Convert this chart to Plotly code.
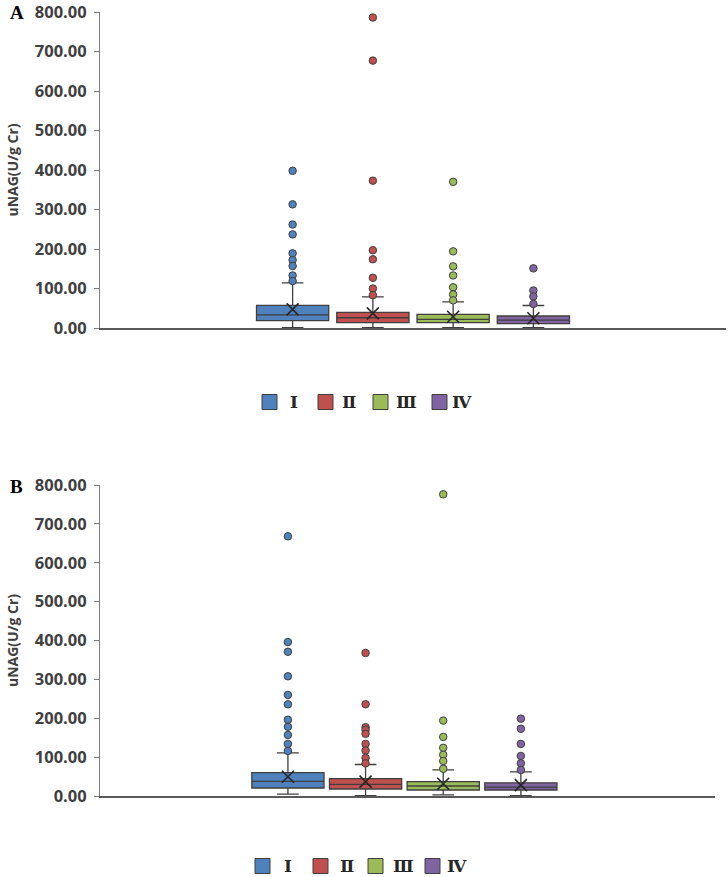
import plotly.graph_objects as go

W, H = 728, 877

groups = ["Ⅰ", "Ⅱ", "Ⅲ", "Ⅳ"]
colors = ["#4F81BD", "#C0504D", "#9BBB59", "#8064A2"]
positions = [1, 2, 3, 4]
y_ticks = [0, 100, 200, 300, 400, 500, 600, 700, 800]

# Panel A statistics
A_q1 = [18.5, 13.4, 13.4, 11.0]
A_median = [33.0, 26.0, 22.0, 20.0]
A_q3 = [57.5, 39.7, 34.7, 30.4]
A_low = [1.0, 1.0, 1.0, 1.0]
A_high = [114.0, 79.0, 66.0, 57.0]
A_mean = [47.0, 37.0, 28.6, 24.6]
A_out_I = [398, 313, 262, 237, 189, 172, 157, 133, 119]
A_out_II = [786, 677, 373, 197, 174, 127, 100, 83]
A_out_III = [370, 194, 156, 133, 103, 85, 70]
A_out_IV = [151, 95, 80, 61]

# Panel B statistics
B_q1 = [20.6, 18.0, 15.4, 15.4]
B_median = [37.8, 30.0, 25.7, 23.0]
B_q3 = [60.0, 44.5, 36.8, 34.0]
B_low = [5.0, 1.0, 3.0, 1.0]
B_high = [111.0, 81.0, 67.0, 62.0]
B_mean = [49.6, 36.8, 31.6, 28.0]
B_out_I = [668, 396, 371, 308, 260, 236, 196, 178, 157, 134, 116]
B_out_II = [368, 236, 177, 170, 160, 134, 117, 98, 84]
B_out_III = [776, 194, 152, 124, 106, 90, 70]
B_out_IV = [199, 173, 134, 103, 84, 67]

EDGE = "#3F3F3F"
TXT = "#404040"

# legend layout (pixels): square left edges, text centres, row centre
LEG_A = dict(sq=[262, 318, 373, 432], tx=[294, 349, 406, 462], y=402)
LEG_B = dict(sq=[255, 313, 368, 425], tx=[288, 347, 403, 457], y=866)
SQ = 15


def fx(p):
    return p / W


def fy(p):
    return 1 - p / H


fig = go.Figure()


def add_panel(q1, med, q3, low, high, mean, outs, xa, ya, bw):
    for i in range(4):
        fig.add_trace(go.Box(
            x=[positions[i]], q1=[q1[i]], median=[med[i]], q3=[q3[i]],
            lowerfence=[low[i]], upperfence=[high[i]], name=groups[i],
            boxpoints=False, width=bw, whiskerwidth=0.3,
            fillcolor=colors[i], line=dict(color=EDGE, width=1.3),
            xaxis=xa, yaxis=ya, showlegend=False, hoverinfo="skip"))
        fig.add_trace(go.Scatter(
            x=[positions[i]] * len(outs[i]), y=outs[i], mode="markers",
            marker=dict(symbol="circle", size=7.5, color=colors[i],
                        line=dict(color=EDGE, width=1)),
            xaxis=xa, yaxis=ya, showlegend=False, hoverinfo="skip"))
        fig.add_trace(go.Scatter(
            x=[positions[i]], y=[mean[i]], mode="markers",
            marker=dict(symbol="x-thin-open", size=12, color="#262626",
                        line=dict(color="#262626", width=1.6)),
            xaxis=xa, yaxis=ya, showlegend=False, hoverinfo="skip"))


add_panel(A_q1, A_median, A_q3, A_low, A_high, A_mean,
          [A_out_I, A_out_II, A_out_III, A_out_IV], "x", "y", 0.9)
add_panel(B_q1, B_median, B_q3, B_low, B_high, B_mean,
          [B_out_I, B_out_II, B_out_III, B_out_IV], "x2", "y2", 0.93)

# legends (drawn as shapes + text so spacing matches the original)
shapes = []
annotations = []
for leg in (LEG_A, LEG_B):
    for i in range(4):
        x0 = leg["sq"][i]
        shapes.append(dict(type="rect", xref="paper", yref="paper",
                           x0=fx(x0), x1=fx(x0 + SQ),
                           y0=fy(leg["y"] + SQ / 2), y1=fy(leg["y"] - SQ / 2),
                           fillcolor=colors[i], line=dict(color=EDGE, width=1)))
        annotations.append(dict(text=groups[i], x=fx(leg["tx"][i]), y=fy(leg["y"]),
                                xref="paper", yref="paper", xanchor="center",
                                yanchor="middle", showarrow=False,
                                font=dict(family="DejaVu Serif", size=17,
                                          color="#262626", weight="bold")))

annotations += [
    dict(text="<b>A</b>", x=fx(8), y=fy(13), xref="paper", yref="paper",
         xanchor="left", yanchor="middle", showarrow=False,
         font=dict(family="Liberation Serif", size=19, color="black")),
    dict(text="<b>B</b>", x=fx(8), y=fy(486), xref="paper", yref="paper",
         xanchor="left", yanchor="middle", showarrow=False,
         font=dict(family="Liberation Serif", size=19, color="black")),
]

yax = dict(range=[0, 800], tickvals=y_ticks, tickformat=".2f", automargin=False,
           showline=True, linecolor="#7F7F7F", linewidth=1,
           ticks="outside", ticklen=5, tickcolor="#7F7F7F", ticklabelstandoff=4,
           ticklabeloverflow="allow",
           showgrid=False, zeroline=False,
           tickfont=dict(family="Open Sans", size=16.5, color=TXT, weight="bold"),
           title=dict(text="uNAG(U/g Cr)", standoff=12,
                      font=dict(family="Open Sans", size=14, color=TXT, weight="bold")))
xax = dict(showline=True, linecolor="#595959", linewidth=2, showticklabels=False,
           ticks="", showgrid=False, zeroline=False, automargin=False)

fig.update_layout(
    width=W, height=H, margin=dict(l=0, r=0, t=0, b=0, autoexpand=False),
    plot_bgcolor="white", paper_bgcolor="white", showlegend=False,
    xaxis=dict(xax, domain=[fx(100), fx(726)], range=[-1.4, 6.4], anchor="y"),
    yaxis=dict(yax, domain=[fy(328), fy(12)], anchor="x"),
    xaxis2=dict(xax, domain=[fx(100), fx(715)], range=[-1.42, 6.5], anchor="y2"),
    yaxis2=dict(yax, domain=[fy(796), fy(485)], anchor="x2"),
    shapes=shapes,
    annotations=annotations,
)

fig.write_html("out.html", config={"displayModeBar": False},
               post_script="document.body.style.margin='0px';")
